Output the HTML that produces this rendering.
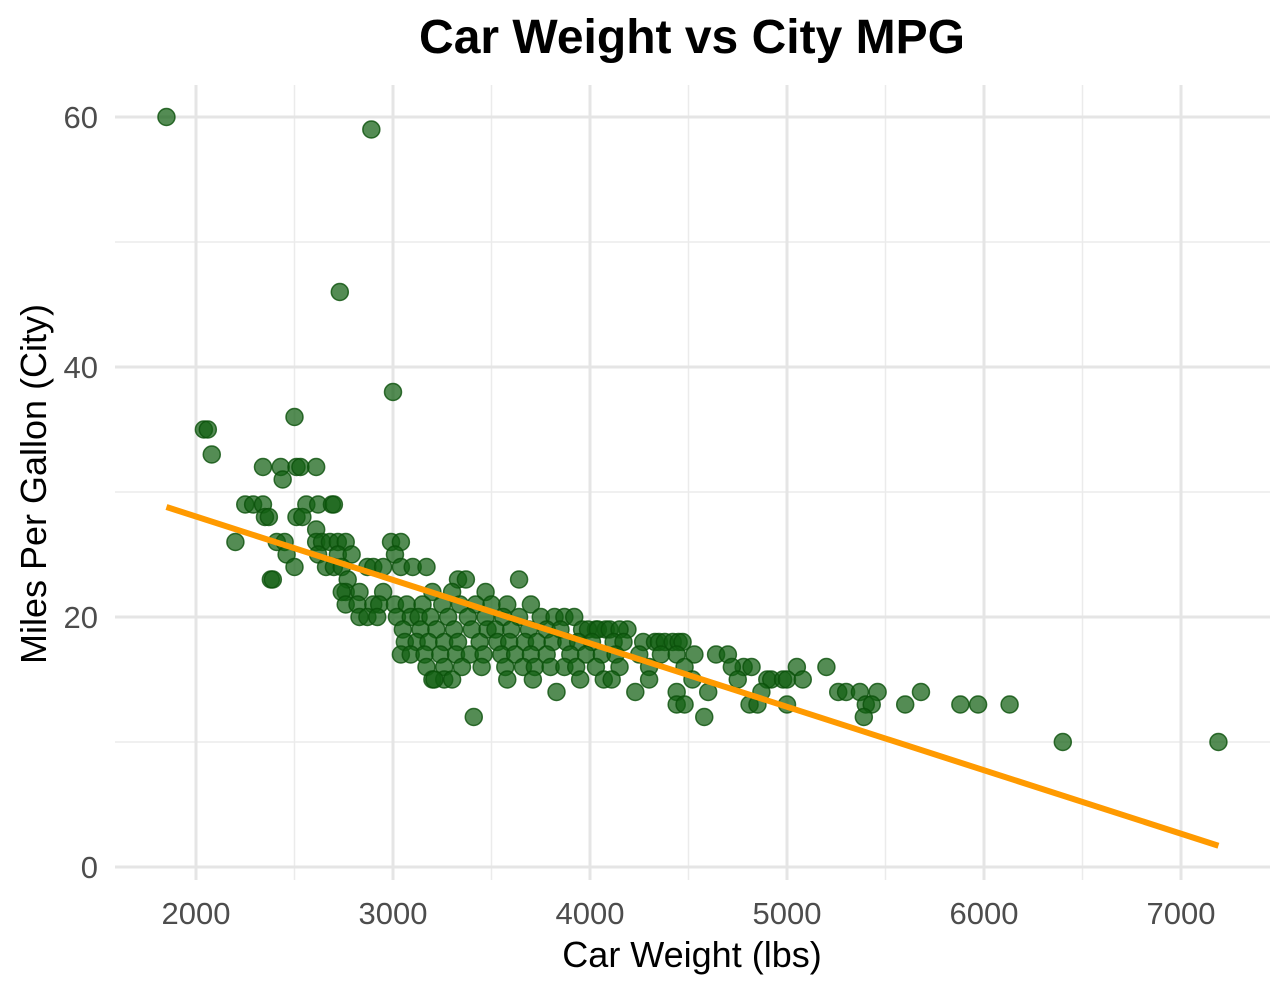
<!DOCTYPE html>
<html><head><meta charset="utf-8"><style>
body{margin:0;background:#fff;font-family:"Liberation Sans",Arial,sans-serif}
</style></head><body>
<svg id="chart" width="1288" height="992" xmlns="http://www.w3.org/2000/svg">
<rect width="1288" height="992" fill="#fff"/>
<g id="grid"></g><g id="ticks"></g><g id="pts"></g><g id="fit"></g>
<text x="692" y="53" text-anchor="middle" font-size="48" font-weight="bold" fill="#000">Car Weight vs City MPG</text>
<text x="692" y="967" text-anchor="middle" font-size="36" fill="#000">Car Weight (lbs)</text>
<text transform="translate(46,484) rotate(-90)" text-anchor="middle" font-size="36" fill="#000">Miles Per Gallon (City)</text>
</svg>
<script>
const xTicks=[2000,3000,4000,5000,6000,7000];
const xMinor=[2500,3500,4500,5500,6500];
const yTicks=[0,20,40,60];
const yMinor=[10,30,50];
const weights=[
1850,
2890,
2730,
3000,
2500,
2040,2060,
2080,
2340,2430,2510,2530,2610,
2440,
2250,2290,2340,2560,2620,2690,2700,
2350,2370,2510,2540,
2610,
2200,2410,2450,2610,2640,2680,2720,2760,2990,3040,
2460,2620,2720,2790,3010,
2500,2660,2700,2740,2870,2900,2950,3040,3100,3170,
2380,2390,2770,3330,3370,3640,
2760,2830,2740,2950,3200,3300,3470,
2760,2820,2900,2930,3010,3070,3150,3250,3340,3420,3500,3580,3700,
2830,2870,2920,3020,3090,3130,3190,3280,3380,3470,3560,3640,3750,3820,3870,3920,
3050,3140,3220,3310,3400,3480,3520,3600,3690,3780,3850,3960,4030,4080,4190,3990,4040,4100,4150,
3060,3120,3180,3260,3330,3440,3530,3590,3670,3730,3810,3880,3940,4010,4120,4170,4270,4330,4350,4380,4420,4450,4470,
3040,3090,3160,3240,3320,3390,3460,3550,3620,3700,3780,3900,3980,4060,4130,4250,4360,4440,4530,4640,4700,
3170,3260,3350,3450,3570,3660,3720,3800,3870,3930,4030,4150,4300,4480,4780,4820,5050,5200,4720,
3200,3260,3210,3300,3580,3710,3950,4070,4110,4300,4520,4750,4900,4920,4980,5000,5080,
3830,4230,4440,4600,4870,5260,5300,5370,5460,5680,
4440,4480,4810,4850,5000,5400,5430,5600,5880,5970,6130,
3410,4580,5390,
6400,7190];
const mpg=[
60,
59,
46,
38,
36,
35,35,
33,
32,32,32,32,32,
31,
29,29,29,29,29,29,29,
28,28,28,28,
27,
26,26,26,26,26,26,26,26,26,26,
25,25,25,25,25,
24,24,24,24,24,24,24,24,24,24,
23,23,23,23,23,23,
22,22,22,22,22,22,22,
21,21,21,21,21,21,21,21,21,21,21,21,21,
20,20,20,20,20,20,20,20,20,20,20,20,20,20,20,20,
19,19,19,19,19,19,19,19,19,19,19,19,19,19,19,19,19,19,19,
18,18,18,18,18,18,18,18,18,18,18,18,18,18,18,18,18,18,18,18,18,18,18,
17,17,17,17,17,17,17,17,17,17,17,17,17,17,17,17,17,17,17,17,17,
16,16,16,16,16,16,16,16,16,16,16,16,16,16,16,16,16,16,16,
15,15,15,15,15,15,15,15,15,15,15,15,15,15,15,15,15,
14,14,14,14,14,14,14,14,14,14,
13,13,13,13,13,13,13,13,13,13,13,
12,12,12,
10,10];
const fitX=[1850,7190];
const fitCoef=[38.19,-0.005075];
const NS="http://www.w3.org/2000/svg";
const sx=v=>196+(v-2000)*0.197;
const sy=v=>867-v*12.5;
function mk(p,t,a){const e=document.createElementNS(NS,t);for(const k in a)e.setAttribute(k,a[k]);p.appendChild(e);return e;}
const grid=document.getElementById('grid'),ticks=document.getElementById('ticks'),pts=document.getElementById('pts'),fit=document.getElementById('fit');
xMinor.forEach(v=>{const l=mk(grid,'line',{x1:sx(v),x2:sx(v),y1:85,y2:880,stroke:'#ebebeb','stroke-width':1.5});

});
yMinor.forEach(v=>{const l=mk(grid,'line',{x1:115,x2:1270,y1:sy(v),y2:sy(v),stroke:'#ebebeb','stroke-width':1.5});

});
xTicks.forEach(v=>{const l=mk(grid,'line',{x1:sx(v),x2:sx(v),y1:85,y2:880,stroke:'#e5e5e5','stroke-width':3});


const t=mk(ticks,'text',{x:sx(v),y:924,'text-anchor':'middle','font-size':31,fill:'#4d4d4d'});t.textContent=v;

});
yTicks.forEach(v=>{const l=mk(grid,'line',{x1:115,x2:1270,y1:sy(v),y2:sy(v),stroke:'#e5e5e5','stroke-width':3});


const t=mk(ticks,'text',{x:98,y:sy(v)+11,'text-anchor':'end','font-size':31,fill:'#4d4d4d'});t.textContent=v;

});
weights.forEach((w,i)=>{const c=mk(pts,'circle',{cx:sx(w),cy:sy(mpg[i]),r:8.5,fill:'rgba(18,95,18,0.72)',stroke:'rgba(10,80,10,0.8)','stroke-width':1.5});

});
const f=mk(fit,'line',{x1:sx(fitX[0]),y1:sy(fitCoef[0]+fitCoef[1]*fitX[0]),x2:sx(fitX[1]),y2:sy(fitCoef[0]+fitCoef[1]*fitX[1]),stroke:'#ff9a00','stroke-width':6});


</script>
</body></html>
